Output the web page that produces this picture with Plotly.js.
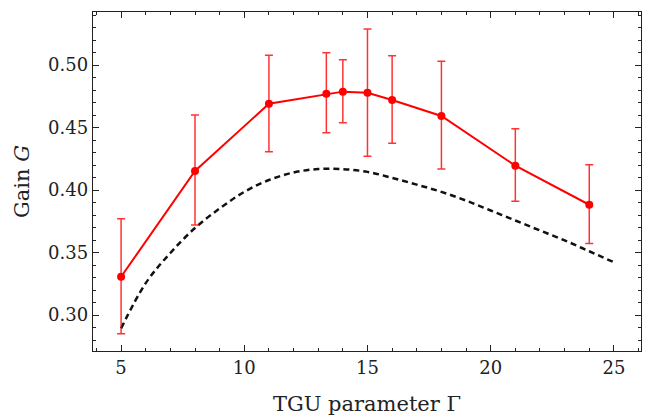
<!DOCTYPE html>
<html>
<head>
<meta charset="utf-8">
<script src="https://cdn.plot.ly/plotly-3.0.1.min.js"></script>
<style>html,body{margin:0;padding:0;background:#fff;}#chart{width:646px;height:417px;}</style>
</head>
<body>
<div id="chart"></div>
<script>
// Measured gain with asymmetric error bars
const gammaMeas = [5, 8, 11, 13.33, 14, 15, 16, 18, 21, 24];
const gainMeas  = [0.3306, 0.4152, 0.469, 0.477, 0.4787, 0.4778, 0.472, 0.4592, 0.4194, 0.3882];
const errPlus   = [0.0464, 0.0448, 0.0388, 0.0328, 0.0256, 0.051, 0.0355, 0.0438, 0.0296, 0.032];
const errMinus  = [0.0456, 0.0432, 0.0384, 0.0312, 0.0249, 0.0508, 0.0346, 0.0424, 0.0284, 0.0309];

// Theory curve (dashed)
const gammaTheory = [5, 6, 7, 8, 9, 10, 11, 12, 13, 14, 15, 16, 17, 18, 19, 20, 21, 22, 23, 24, 25];
const gainTheory  = [0.2893, 0.3255, 0.3496, 0.3696, 0.3852, 0.3985, 0.408, 0.414, 0.4168, 0.4167, 0.4145, 0.4097, 0.4043, 0.3985, 0.3915, 0.3836, 0.3756, 0.3676, 0.3597, 0.351, 0.3422];

const xTicks = [5, 10, 15, 20, 25];
const yTicks = [0.30, 0.35, 0.40, 0.45, 0.50];
const yTickText = ['0.30', '0.35', '0.40', '0.45', '0.50'];

const fontFam = 'DejaVu Serif, serif';

const traces = [
  {
    x: gammaTheory, y: gainTheory, type: 'scatter', mode: 'lines',
    line: {color: '#111', width: 2.5, dash: '6px,4px', shape: 'spline', smoothing: 1},
    hoverinfo: 'skip'
  },
  {
    x: gammaMeas, y: gainMeas, type: 'scatter', mode: 'lines+markers',
    line: {color: '#ff0000', width: 2},
    marker: {color: '#ff0000', size: 8},
    error_y: {type: 'data', symmetric: false, array: errPlus, arrayminus: errMinus,
              color: 'rgba(255,0,0,0.8)', thickness: 1.5, width: 4}
  }
];

const axisCommon = {
  showgrid: false, zeroline: false, showline: true, mirror: 'allticks',
  linecolor: '#222', linewidth: 1.3, ticks: 'inside', ticklen: 6, tickwidth: 1,
  tickcolor: '#222', tickfont: {family: fontFam, size: 18, color: '#222'}
};

const layout = {
  width: 646, height: 417,
  margin: {l: 93, r: 5, t: 12, b: 66},
  paper_bgcolor: '#fff', plot_bgcolor: '#fff',
  showlegend: false,
  xaxis: Object.assign({}, axisCommon, {
    range: [3.86, 26.1], tickvals: xTicks, ticktext: xTicks.map(String),
    minor: {dtick: 1, tick0: 0, ticklen: 3, ticks: 'inside', tickcolor: '#222'},
    title: {text: 'TGU parameter Γ', font: {family: fontFam, size: 21, color: '#222'}, standoff: 19}
  }),
  yaxis: Object.assign({}, axisCommon, {
    range: [0.2712, 0.5424], tickvals: yTicks, ticktext: yTickText,
    minor: {dtick: 0.01, tick0: 0, ticklen: 3, ticks: 'inside', tickcolor: '#222'},
    title: {text: 'Gain <i>G</i>', font: {family: fontFam, size: 21, color: '#222'}, standoff: 12}
  })
};

Plotly.newPlot('chart', traces, layout, {displayModeBar: false, staticPlot: true});
</script>
</body>
</html>
